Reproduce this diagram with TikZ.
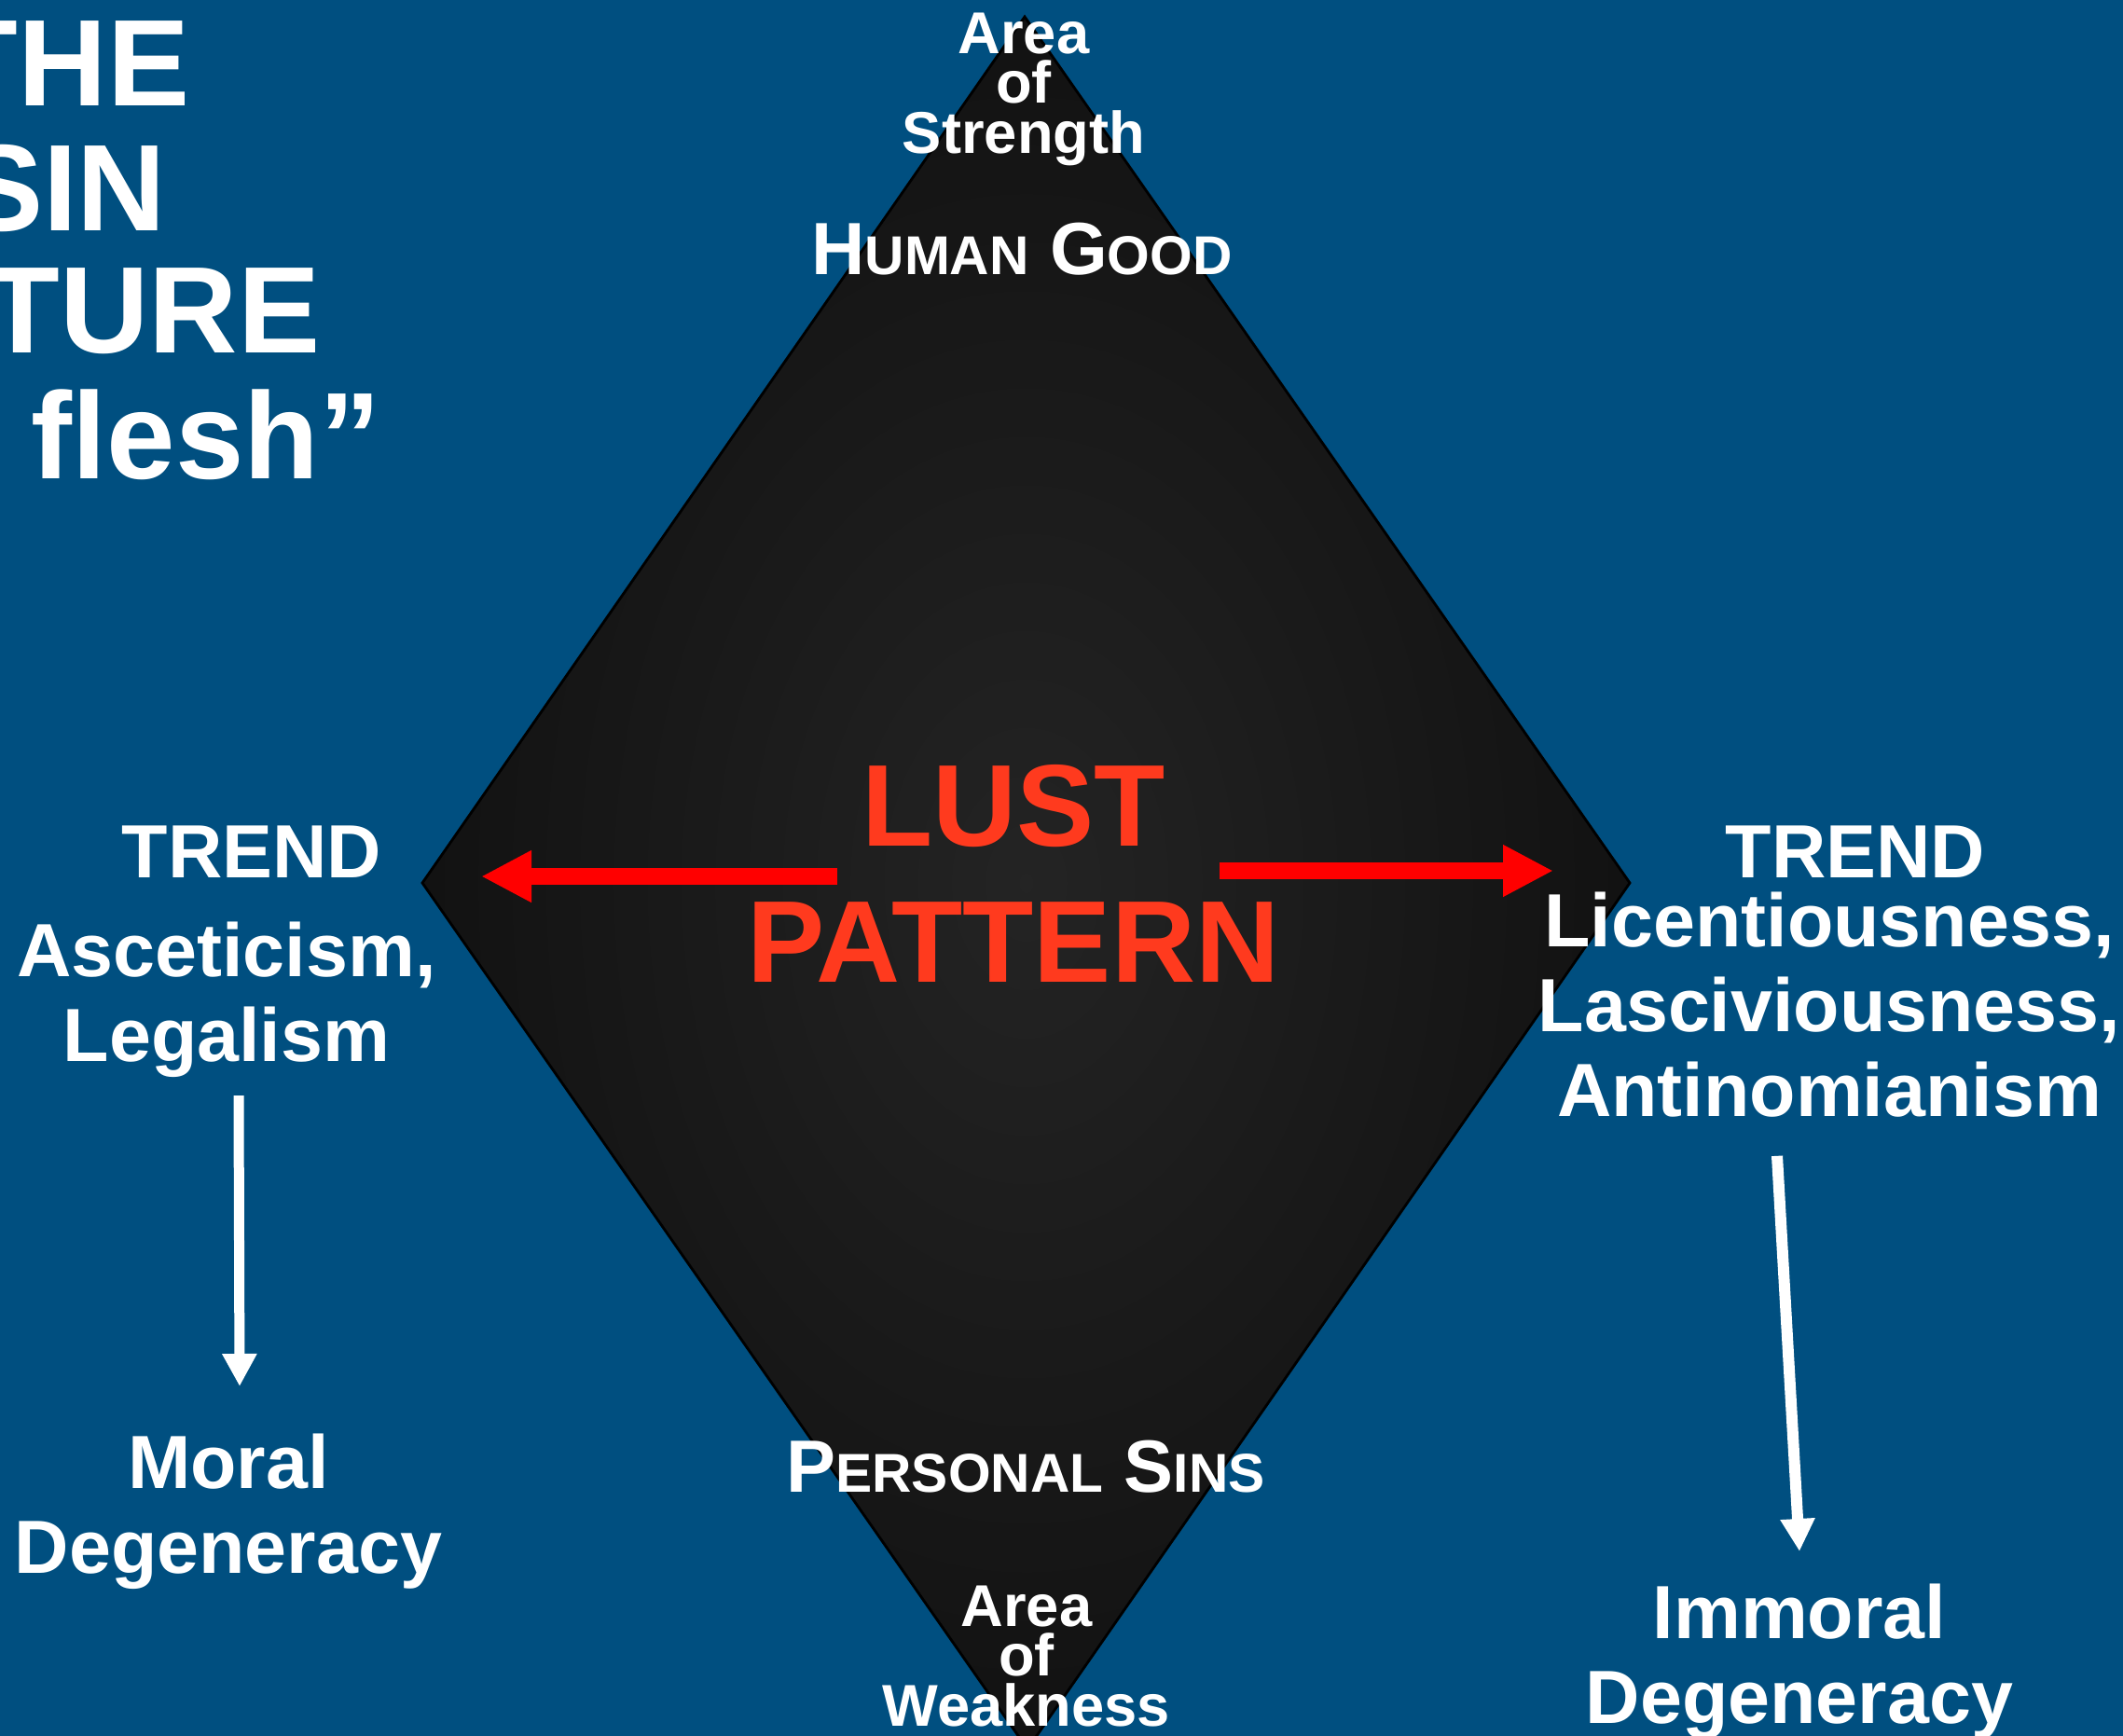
\documentclass[tikz,border=0pt]{standalone}
\usepackage{fontspec}
\setmainfont{Liberation Sans}
\usepackage{tikz}
\usetikzlibrary{arrows.meta,positioning}
\definecolor{slideblue}{RGB}{0,79,128}
\definecolor{lustred}{RGB}{255,58,30}
\newcommand{\capsc}[2]{{\fontsize{22.6}{26}\selectfont #1}{\fontsize{16.7}{20}\selectfont #2}}

\begin{document}
\begin{tikzpicture}[
	wtext/.style={text=white,font=\bfseries\fontsize{23}{25.9}\selectfont,inner sep=0pt,align=center},
	small/.style={text=white,font=\bfseries\fontsize{18}{15.2}\selectfont,inner sep=0pt,align=center},
	title/.style={text=white,font=\bfseries\fontsize{37.6}{39}\selectfont,inner sep=0pt,anchor=base east},
	redarrow/.style={-{Triangle[length=5.4mm,width=5.2mm]},red,line width=1.8mm},
	wharrow/.style={-{Triangle[length=3.5mm,width=3.5mm]},white,line width=1.1mm}]
	\clip (0,0) rectangle (22.77,-18.62);
	\fill[slideblue] (0,0) rectangle (22.77,-18.62);

	% the diamond
	\coordinate (top) at (10.99,-0.18);
	\coordinate (left) at (4.53,-9.47);
	\coordinate (right) at (17.48,-9.47);
	\coordinate (bot) at (11.02,-18.76);
	\shade[inner color=black!86,outer color=black!93,draw=black,line width=0.8pt] (top) -- (right) -- (bot) -- (left) -- cycle;

	% title, cut at the left edge
	\node[title] (t1) at (2.04,-1.14) {THE};
	\node[title] (t2) at (1.79,-2.48) {SIN};
	\node[title] (t3) at (3.44,-3.79) {TURE};
	\node[title] (t4) at (4.09,-5.13) {flesh”};

	\node[small,anchor=north] (strength) at (10.98,-0.13) {Area\\of\\Strength};
	\node[wtext,anchor=base] (good) at (10.96,-2.95) {\capsc{H}{UMAN} \capsc{G}{OOD}};
	\node[anchor=north,inner sep=0pt,align=center,text=lustred,font=\bfseries\fontsize{35.5}{41.5}\selectfont] (lust) at (10.87,-8.20) {LUST\\PATTERN};
	\node[wtext,anchor=base] (sins) at (11.00,-16.00) {\capsc{P}{ERSONAL} \capsc{S}{INS}};
	\node[small,anchor=north] (weakness) at (11.01,-17.00) {Area\\of\\Weakness};

	\node[wtext,anchor=base] (trendl) at (2.70,-9.41) {TREND};
	\node[wtext,anchor=north] (asc) at (2.43,-9.88) {Asceticism,\\Legalism};
	\node[wtext,anchor=north] (moral) at (2.45,-15.37) {Moral\\Degeneracy};
	\node[wtext,anchor=base] (trendr) at (19.90,-9.41) {TREND};
	\node[wtext,anchor=north] (lic) at (19.62,-9.56) {Licentiousness,\\Lasciviousness,\\Antinomianism};
	\node[wtext,anchor=north] (immoral) at (19.30,-16.98) {Immoral\\Degeneracy};

	% arrows
	\coordinate (lfrom) at (8.98,-9.40);
	\coordinate (lto) at (5.16,-9.40);
	\coordinate (rfrom) at (13.08,-9.34);
	\coordinate (rto) at (16.66,-9.34);
	\draw[redarrow] (lfrom) -- (lto);
	\draw[redarrow] (rfrom) -- (rto);
	\draw[wharrow] ([xshift=1.3mm,yshift=-1.9mm]asc.south) -- ([xshift=1.2mm,yshift=5mm]moral.north);
	\draw[wharrow,line width=1.2mm] ([xshift=-5.6mm,yshift=-4.1mm]lic.south) -- ([yshift=3.4mm]immoral.north);
\end{tikzpicture}
\end{document}
